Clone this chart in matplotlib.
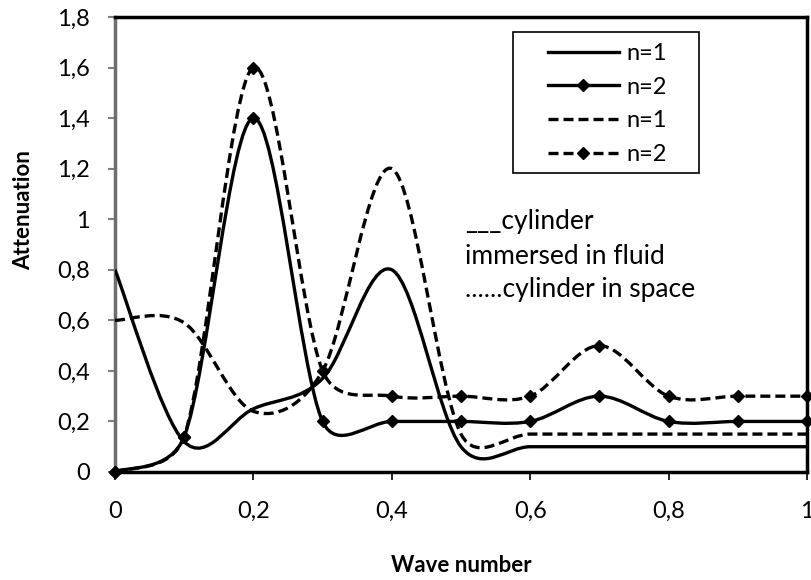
import matplotlib
matplotlib.use('Agg')
import matplotlib.pyplot as plt
import numpy as np
from matplotlib.path import Path
from matplotlib.patches import PathPatch, Rectangle
from matplotlib.lines import Line2D
from matplotlib.ticker import FuncFormatter, MultipleLocator

plt.rcParams['font.family'] = ['Lato', 'DejaVu Sans']

# data
wave = [0, 0.1, 0.2, 0.3, 0.4, 0.5, 0.6, 0.7, 0.8, 0.9, 1.0]
fluid_n1 = [0.8, 0.12, 0.25, 0.37, 0.8, 0.1, 0.1, 0.1, 0.1, 0.1, 0.1]
fluid_n2 = [0, 0.14, 1.4, 0.2, 0.2, 0.2, 0.2, 0.3, 0.2, 0.2, 0.2]
space_n1 = [0.6, 0.59, 0.24, 0.4, 1.2, 0.15, 0.15, 0.15, 0.15, 0.15, 0.15]
space_n2 = [0, 0.14, 1.6, 0.4, 0.3, 0.3, 0.3, 0.5, 0.3, 0.3, 0.3]
labels = ['n=1', 'n=2', 'n=1', 'n=2']
notes = ['___cylinder', 'immersed in fluid', '......cylinder in space']

W, H = 811, 580
fig = plt.figure(figsize=(W / 100, H / 100), dpi=100)
ax = fig.add_axes([115 / W, 1 - 472 / H, (807 - 115) / W, (472 - 17) / H])
ax.set_xlim(0, 1)
ax.set_ylim(0, 1.8)


def excel_smooth(xs, ys):
    # bezier through the points, like excel's "smoothed line"
    pts = ax.transData.transform(np.column_stack([xs, ys]))
    n = len(pts)
    verts = [pts[0]]
    codes = [Path.MOVETO]
    for i in range(n - 1):
        p0 = pts[max(i - 1, 0)]
        p1 = pts[i]
        p2 = pts[i + 1]
        p3 = pts[min(i + 2, n - 1)]
        half = np.hypot(*(p2 - p1)) / 2
        d1 = (p2 - p0) / 6
        d2 = (p3 - p1) / 6
        l1 = np.hypot(*d1)
        l2 = np.hypot(*d2)
        if l1 > half:
            d1 = d1 * half / l1
        if l2 > half:
            d2 = d2 * half / l2
        verts += [p1 + d1, p2 - d2, p2]
        codes += [Path.CURVE4] * 3
    verts = ax.transData.inverted().transform(np.array(verts))
    return Path(verts, codes)


lw = 2.4
dash = (0, (3, 1.5))
for ys, ls in [(fluid_n1, '-'), (fluid_n2, '-'), (space_n1, dash), (space_n2, dash)]:
    ax.add_patch(PathPatch(excel_smooth(wave, ys), facecolor='none', edgecolor='black',
                           lw=lw, linestyle=ls, zorder=3))
ax.plot(wave, fluid_n2, ls='none', marker='D', ms=6.5, color='black', zorder=4, clip_on=False)
ax.plot(wave, space_n2, ls='none', marker='D', ms=6.5, color='black', zorder=4, clip_on=False)

fmt = FuncFormatter(lambda v, _: ('%g' % round(v, 2)).replace('.', ','))
ax.xaxis.set_major_locator(MultipleLocator(0.2))
ax.yaxis.set_major_locator(MultipleLocator(0.2))
ax.xaxis.set_major_formatter(fmt)
ax.yaxis.set_major_formatter(fmt)
ax.tick_params(axis='y', direction='out', length=5, width=1.5, color='#808080', pad=13, labelsize=17)
ax.tick_params(axis='x', direction='out', length=6, width=1.2, color='black', pad=15, labelsize=17)
for s in ax.spines.values():
    s.set_color('black')
    s.set_linewidth(2.5)
ax.spines['left'].set_color('#6e6e6e')

ax.set_xlabel('Wave number', fontsize=16, fontweight='bold')
ax.xaxis.set_label_coords(0.5, (472 - 555) / 455)
ax.set_ylabel('Attenuation', fontsize=16, fontweight='bold')
ax.yaxis.set_label_coords((34 - 115) / 692, (472 - 210) / 455)

handles = [
    Line2D([], [], color='black', lw=lw),
    Line2D([], [], color='black', lw=lw, marker='D', ms=6.5),
    Line2D([], [], color='black', lw=lw, ls=dash),
    Line2D([], [], color='black', lw=lw, ls=dash, marker='D', ms=6.5),
]
fig.legend(handles, labels, loc='center left', bbox_to_anchor=(548 / W, 1 - 104 / H),
           frameon=False, fontsize=17, handlelength=3.0, handletextpad=0.34,
           labelspacing=0.53, borderaxespad=0, borderpad=0, numpoints=1)
fig.patches.append(Rectangle((513 / W, 1 - 173 / H), 186 / W, 141 / H, transform=fig.transFigure,
                             facecolor='none', edgecolor='black', lw=1.2, figure=fig))

for txt, yp in zip(notes, [222, 256, 290]):
    fig.text(465 / W, 1 - yp / H, txt, fontsize=19, va='center', ha='left')

fig.savefig('out.png', dpi=100)
